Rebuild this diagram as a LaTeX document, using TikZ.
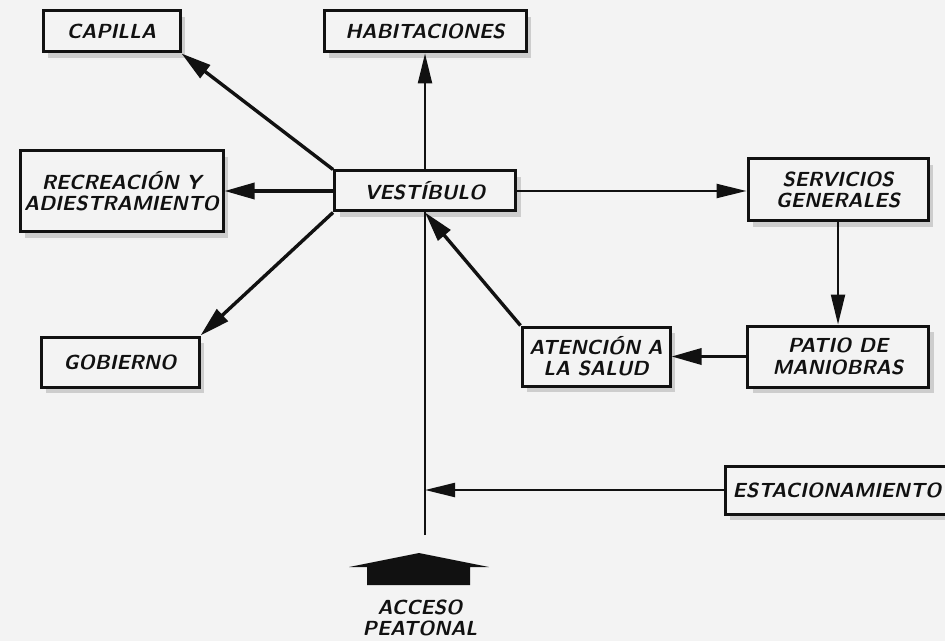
\documentclass[tikz,border=0pt]{standalone}
\usetikzlibrary{arrows.meta,shadows}
\definecolor{planink}{HTML}{111111}
\definecolor{planpaper}{HTML}{F3F3F3}
\definecolor{planshade}{HTML}{BDBDBD}
\begin{document}
\begin{tikzpicture}[
  x=0.5pt,
  y=-0.5pt,
  every node/.style={font=\fontsize{10.2}{10.6}\selectfont\sffamily\bfseries\slshape, planink},
  area/.style={draw=planink, line width=1.5pt, fill=planpaper, inner sep=0pt, align=center,
               drop shadow={shadow xshift=2.5pt, shadow yshift=-3pt, fill=planshade, opacity=0.7}},
  flow/.style={planink, line width=1.1pt, -{Triangle[length=15pt, width=7pt]}},
  slant/.style={planink, line width=1.7pt, -{Triangle[length=15pt, width=8pt]}},
  walk/.style={planink, line width=1.1pt}
]
  % ---- page: same size as the scanned plan ----
  \fill[planpaper] (0,0) rectangle (945,641);
  \useasboundingbox (0,0) rectangle (945,641);

  % ---- zones ----
  \node[area, minimum width=68.5pt, minimum height=20.5pt] (capilla) at (111.5,31.5) {CAPILLA};
  \node[area, minimum width=101pt, minimum height=20.5pt] (habit) at (425,31.5) {HABITACIONES};
  \node[area, minimum width=101.5pt, minimum height=40.5pt] (recre) at (121.5,191.5)
    {RECREACIÓN Y\\ADIESTRAMIENTO};
  \node[area, minimum width=90.5pt, minimum height=20pt] (vest) at (425,191) {VESTÍBULO};
  \node[area, minimum width=90pt, minimum height=31pt] (serv) at (838,190)
    {SERVICIOS\\GENERALES};
  \node[area, minimum width=79pt, minimum height=25pt] (gob) at (120,362) {GOBIERNO};
  \node[area, minimum width=74pt, minimum height=29.5pt] (aten) at (596,356.5)
    {ATENCIÓN A\\LA SALUD};
  \node[area, minimum width=90.5pt, minimum height=30.5pt] (patio) at (838,356.5)
    {PATIO DE\\MANIOBRAS};
  \node[area, minimum width=112pt, minimum height=24pt] (estac) at (837,490) {ESTACIONAMIENTO};

  % ---- pedestrian entrance ----
  \fill[planink] (419,553) -- (489,567) -- (470,567) -- (470,585)
    -- (367,585) -- (367,567) -- (349,567) -- cycle;
  \node[align=center] (acceso) at (420,618) {ACCESO\\PEATONAL};
  \coordinate (gate) at (vest.south |- 0,535);

  % ---- links out of the hall ----
  \draw[slant] (vest.north west) -- (capilla.south east);
  \draw[flow] (vest.north) -- (habit.south);
  \draw[slant] (vest.west) -- (vest.west -| recre.east);
  \draw[slant] (vest.south west) -- (gob.north east);
  \draw[flow] (vest.east) -- (vest.east -| serv.west);

  % ---- service loop back into the hall ----
  \draw[flow] (serv.south) -- (patio.north);
  \draw[slant] (patio.west) -- (aten.east);
  \draw[slant] (aten.north west) -- (vest.south);

  % ---- entrance spine ----
  \draw[walk] (gate) -- (vest.south);
  \draw[flow] (estac.west) -- (estac.west -| gate);
\end{tikzpicture}
\end{document}
